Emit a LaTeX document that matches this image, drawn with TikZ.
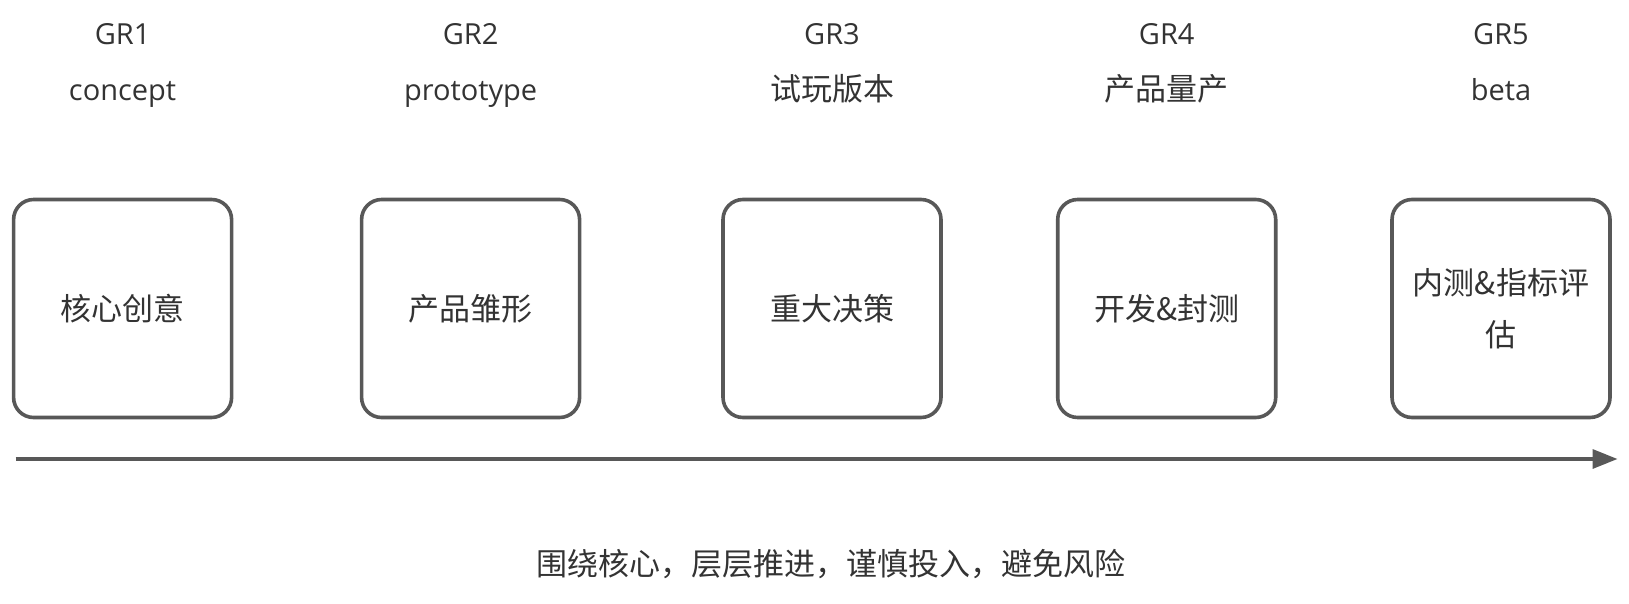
\documentclass[tikz,border=0pt]{standalone}
\usepackage{fontspec}
\setmainfont{Open Sans}
\newfontfamily\cjk{Noto Sans CJK SC}
\usetikzlibrary{arrows.meta}
\definecolor{edgegray}{HTML}{585858}
\definecolor{txtgray}{HTML}{333333}
\begin{document}
\begin{tikzpicture}[x=1pt,y=-1pt,
  stagebox/.style={draw=edgegray, line width=3.6pt, rounded corners=20pt,
    minimum width=218pt, minimum height=218pt, inner sep=0pt,
    align=center, text=txtgray, font=\cjk\fontsize{31}{52}\selectfont},
  toplbl/.style={anchor=base, text=txtgray, inner sep=0pt, font=\fontsize{29}{35}\selectfont},
  cnlbl/.style={anchor=base, text=txtgray, inner sep=0pt, font=\cjk\fontsize{31}{35}\selectfont},
  axis/.style={draw=edgegray, line width=3.4pt, -{Triangle[length=25pt,width=19pt]}}
]
\useasboundingbox (0,0) rectangle (1629,604);
% stage boxes
\node[stagebox] (b1) at (122.6,308.5) {核心创意};
\node[stagebox] (b2) at (470.6,308.5) {产品雏形};
\node[stagebox] (b3) at (832,308.5) {重大决策};
\node[stagebox] (b4) at (1166.7,308.5) {开发\&封测};
\node[stagebox] (b5) at (1501,308.5) {内测\&指标评\\估};
% top labels
\node[toplbl] (g1) at (122.6,44.3) {GR1};
\node[toplbl] (g2) at (470.6,44.3) {GR2};
\node[toplbl] (g3) at (832,44.3) {GR3};
\node[toplbl] (g4) at (1166.7,44.3) {GR4};
\node[toplbl] (g5) at (1501,44.3) {GR5};
\node[toplbl] (n1) at (122.6,100.5) {concept};
\node[toplbl] (n2) at (470.6,100.5) {prototype};
\node[cnlbl] (n3) at (832,100.5) {试玩版本};
\node[cnlbl] (n4) at (1166.7,100.5) {产品量产};
\node[toplbl] (n5) at (1501,100.5) {beta};
% axis arrow
\coordinate (a0) at (15.6,459);
\coordinate (a1) at (1617.5,459);
\draw[axis] (a0) -- (a1);
% bottom caption
\node[anchor=center, text=txtgray, inner sep=0pt, font=\cjk\fontsize{31}{35}\selectfont] (cap) at (831,564) {围绕核心，层层推进，谨慎投入，避免风险};
\end{tikzpicture}
\end{document}
